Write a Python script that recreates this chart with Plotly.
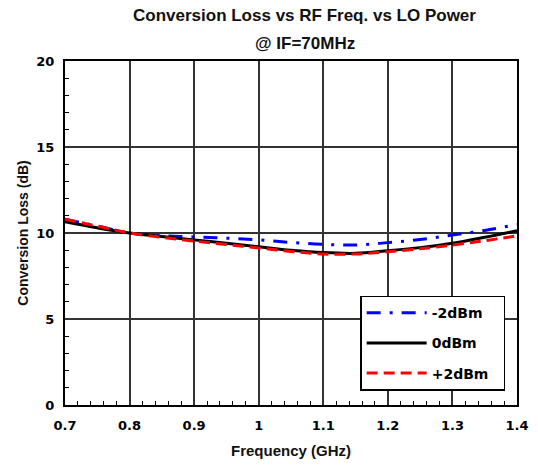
import plotly.graph_objects as go

freq = [0.70, 0.75, 0.80, 0.85, 0.90, 0.95, 1.00, 1.05, 1.10, 1.15, 1.20, 1.25, 1.30, 1.35, 1.40]
loss_m2 = [10.80, 10.40, 10.00, 9.85, 9.77, 9.70, 9.60, 9.45, 9.34, 9.30, 9.44, 9.62, 9.88, 10.15, 10.50]
loss_0 = [10.65, 10.30, 10.00, 9.80, 9.60, 9.40, 9.20, 9.00, 8.86, 8.82, 8.97, 9.15, 9.40, 9.75, 10.13]
loss_p2 = [10.80, 10.40, 10.00, 9.75, 9.53, 9.33, 9.13, 8.93, 8.78, 8.78, 8.91, 9.08, 9.30, 9.55, 9.83]
names = ["-2dBm", "0dBm", "+2dBm"]
title_lines = ["Conversion Loss vs RF Freq. vs LO Power", "@ IF=70MHz"]

fig = go.Figure()
styles = [dict(color="#0000FF", width=3, dash="14px,9px,3px,9px"),
          dict(color="#000000", width=3),
          dict(color="#FF0000", width=3, dash="11px,6px")]
for nm, ys, st in zip(names, [loss_m2, loss_0, loss_p2], styles):
    fig.add_trace(go.Scatter(x=freq, y=ys, name=nm + "\u00a0\u00a0", legendgroup=nm,
                             mode="lines", line_shape="spline", line=st))

tfont = dict(family="Liberation Sans, Arial", size=17, color="#111", weight="bold")
fig.add_annotation(text=title_lines[0], xref="paper", yref="paper", x=0.53, y=1.0,
                   yshift=46, xanchor="center", yanchor="middle", showarrow=False, font=tfont)
fig.add_annotation(text=title_lines[1], xref="paper", yref="paper", x=0.53, y=1.0,
                   yshift=18, xanchor="center", yanchor="middle", showarrow=False, font=tfont)

tick_font = dict(family="DejaVu Sans", size=13, color="#000", weight="bold")
fig.update_layout(
    width=538, height=467,
    margin=dict(l=65, r=21, t=61, b=62),
    paper_bgcolor="white", plot_bgcolor="white",
    showlegend=True,
    legend=dict(x=0.653, y=0.318, xanchor="left", yanchor="top",
                bgcolor="white", bordercolor="#000", borderwidth=1.5,
                font=dict(family="DejaVu Sans", size=14, color="#000", weight="bold"),
                tracegroupgap=9, itemwidth=60),
)
fig.update_xaxes(
    range=[0.7, 1.4], dtick=0.1, tickformat="~g", automargin=False,
    showgrid=True, gridcolor="#333", gridwidth=1.5,
    showline=True, linecolor="#000", linewidth=2, mirror=True,
    ticks="", zeroline=False, ticklabelstandoff=7,
    tickfont=tick_font,
    title=dict(text="Frequency (GHz)", standoff=14,
               font=dict(family="Liberation Sans, Arial", size=15, color="#111", weight="bold")),
    minor=dict(dtick=0.02, ticks="inside", ticklen=4, tickcolor="#000", showgrid=False),
)
fig.update_yaxes(
    range=[0, 20], dtick=5, automargin=False,
    showgrid=True, gridcolor="#333", gridwidth=1.5,
    showline=True, linecolor="#000", linewidth=2, mirror=True,
    ticks="", zeroline=False, ticklabelstandoff=6,
    tickfont=tick_font,
    title=dict(text="Conversion Loss (dB)", standoff=4,
               font=dict(family="Liberation Sans, Arial", size=14, color="#111", weight="bold")),
    minor=dict(dtick=1, ticks="inside", ticklen=4, tickcolor="#000", showgrid=False),
)
fig.write_html("out.html")
